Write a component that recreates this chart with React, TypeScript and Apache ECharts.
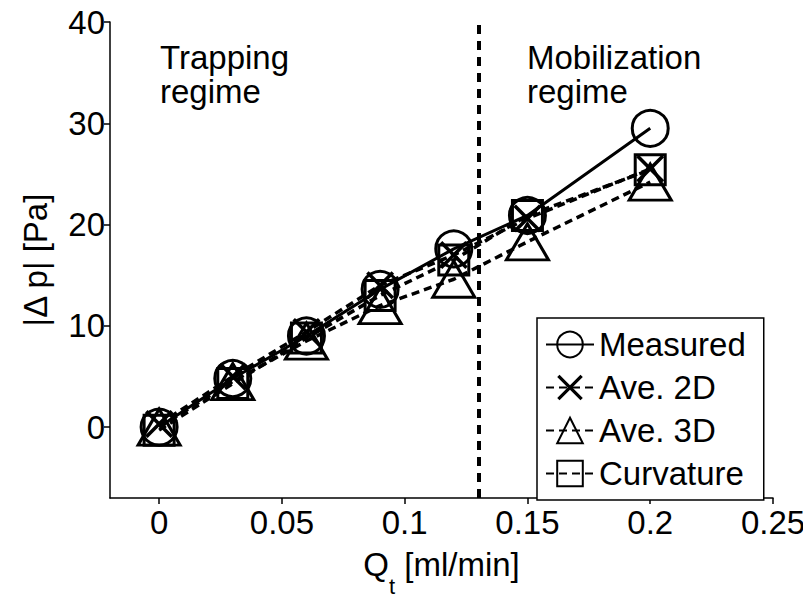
import React, { useEffect, useRef } from "react";
import * as echarts from "echarts";

const xValues = [0, 0.03, 0.06, 0.09, 0.12, 0.15, 0.2];
const measured = [0, 4.8, 9.0, 13.6, 17.6, 20.9, 29.5];
const ave2D = [0.3, 5.0, 9.4, 14.0, 17.0, 20.6, 25.5];
const ave3D = [0, 4.5, 8.5, 12.0, 14.6, 18.3, 24.2];
const curvature = [-0.3, 4.3, 8.8, 13.0, 16.5, 20.9, 25.4];
const xTicks = [0, 0.05, 0.1, 0.15, 0.2, 0.25];
const yTicks = [0, 10, 20, 30, 40];
const regimeBoundary = 0.134;

const FONT = "Liberation Sans";
const FS = 33;
const X_PATH =
  "path://M0,0.9 L0.9,0 L5,4.1 L9.1,0 L10,0.9 L5.9,5 L10,9.1 L9.1,10 L5,5.9 L0.9,10 L0,9.1 L4.1,5 Z";

const pairs = (ys: number[]) => xValues.map((x, i) => [x, ys[i]]);

export default function App() {
  const ref = useRef<HTMLDivElement>(null);
  useEffect(() => {
    if (!ref.current) return;
    const chart = echarts.init(ref.current, null, { renderer: "svg" });
    const dashed = { color: "#000", width: 3.5, type: [8, 5] as any };
    chart.setOption({
      animation: false,
      backgroundColor: "#fff",
      textStyle: { fontFamily: FONT, color: "#000" },
      grid: { left: 110, right: 38, top: 22, bottom: 85 },
      xAxis: {
        type: "value",
        min: -0.02,
        max: 0.25,
        name: "{a|Q}{s|t}{a| [ml/min]}",
        nameLocation: "middle",
        nameGap: 50,
        nameTextStyle: {
          rich: {
            a: { fontSize: FS, fontFamily: FONT, color: "#000" },
            s: { fontSize: 22, fontFamily: FONT, color: "#000", verticalAlign: "bottom", padding: [0, 0, -16, 0] },
          },
        },
        axisLine: { onZero: false, lineStyle: { color: "#000", width: 1.5 } },
        axisTick: { customValues: xTicks, length: 6, lineStyle: { color: "#000", width: 1.5 } },
        axisLabel: {
          customValues: xTicks,
          fontSize: FS,
          color: "#000",
          fontFamily: FONT,
          margin: 8,
          formatter: (v: number) => String(v),
        },
        splitLine: { show: false },
      },
      yAxis: {
        type: "value",
        min: -7,
        max: 40,
        name: "|Δ p| [Pa]",
        nameLocation: "middle",
        nameGap: 58,
        nameTextStyle: { fontSize: FS, fontFamily: FONT, color: "#000" },
        axisLine: { onZero: false, lineStyle: { color: "#000", width: 1.5 } },
        axisTick: { customValues: yTicks, length: 6, lineStyle: { color: "#000", width: 1.5 } },
        axisLabel: { customValues: yTicks, fontSize: FS, color: "#000", fontFamily: FONT, margin: 5 },
        splitLine: { show: false },
      },
      legend: {
        orient: "vertical",
        left: 537,
        top: 318,
        itemWidth: 48,
        itemHeight: 32,
        itemGap: 10,
        padding: [10, 18, 10, 8],
        borderColor: "#000",
        borderWidth: 1.5,
        backgroundColor: "#fff",
        textStyle: { fontSize: FS, fontFamily: FONT, color: "#000" },
        data: ["Measured", "Ave. 2D", "Ave. 3D", "Curvature"],
      },
      series: [
        {
          name: "Ave. 3D",
          type: "line",
          data: pairs(ave3D),
          symbol: "triangle",
          symbolSize: [42, 36],
          lineStyle: dashed,
          itemStyle: { color: "rgba(0,0,0,0)", borderColor: "#000", borderWidth: 3 },
          markLine: {
            silent: true,
            symbol: "none",
            label: { show: false },
            lineStyle: { color: "#000", width: 4, type: [9, 7] as any },
            data: [{ xAxis: regimeBoundary }],
          },
        },
        {
          name: "Curvature",
          type: "line",
          data: pairs(curvature),
          symbol: "rect",
          symbolSize: 30,
          lineStyle: dashed,
          itemStyle: { color: "rgba(0,0,0,0)", borderColor: "#000", borderWidth: 3 },
        },
        {
          name: "Ave. 2D",
          type: "line",
          data: pairs(ave2D),
          symbol: X_PATH,
          symbolSize: 28,
          lineStyle: dashed,
          itemStyle: { color: "#000", borderWidth: 0 },
        },
        {
          name: "Measured",
          type: "line",
          data: pairs(measured),
          symbol: "circle",
          symbolSize: 36,
          lineStyle: { color: "#000", width: 3 },
          itemStyle: { color: "rgba(0,0,0,0)", borderColor: "#000", borderWidth: 3 },
        },
      ],
      graphic: [
        {
          type: "text",
          left: 160,
          top: 40,
          style: { text: "Trapping\nregime", fontSize: FS, fontFamily: FONT, fill: "#000", lineHeight: 34 },
        },
        {
          type: "text",
          left: 527,
          top: 40,
          style: { text: "Mobilization\nregime", fontSize: FS, fontFamily: FONT, fill: "#000", lineHeight: 34 },
        },
      ],
    });
    return () => chart.dispose();
  }, []);
  return <div ref={ref} style={{ width: 811, height: 602, margin: -8 }} />;
}
